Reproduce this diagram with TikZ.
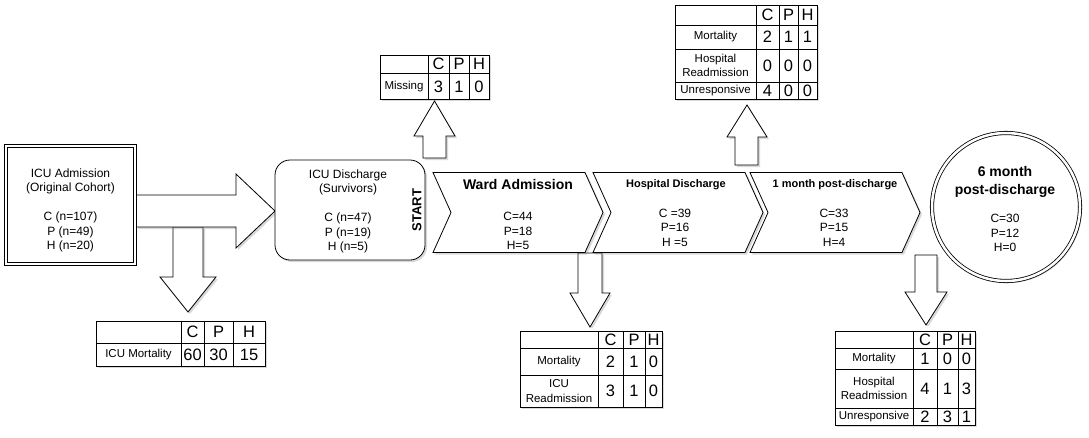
\documentclass[tikz,border=0pt]{standalone}
\usepackage{fontspec}
\setmainfont{Liberation Sans}
\usetikzlibrary{shapes.symbols,shadows}

\begin{document}
\begin{tikzpicture}[x = 1pt, y = -1pt, line width = 0.8pt,
                      txt/.style = {font = \fontsize{12}{14.5}\selectfont, align = center, inner sep = 0pt},
                      lab/.style = {font = \fontsize{11.5}{14.5}\selectfont, align = center, inner sep = 0pt},
                      num/.style = {font = \fontsize{16.5}{18}\selectfont, inner sep = 0pt},
                      title/.style = {font = \fontsize{14}{18}\selectfont\bfseries, align = center, inner sep = 0pt},
                      subtitle/.style = {font = \fontsize{11}{14}\selectfont\bfseries, inner sep = 0pt},
                      dshadow/.style = {drop shadow = {shadow xshift = 2pt, shadow yshift = -2pt, opacity = 0.3}},
                      blockarrow/.style = {draw, fill = white, line join = miter, dshadow},
                      tablebox/.style = {draw, fill = white, dshadow},
                      stage/.style = {signal, signal to = east, signal from = west, signal pointer angle = 131.5,
                                      draw, fill = white, minimum width = 170, minimum height = 80, inner sep = 0pt, dshadow}]
    \useasboundingbox (0, 0) rectangle (1089, 437);

    % block arrows
    \draw [blockarrow] (173, 227) -- (173, 277) -- (160, 277) -- (188, 312) -- (216, 277) -- (203, 277) -- (203, 227) -- cycle;
    \draw [blockarrow] (136, 195) -- (236, 195) -- (236, 174) -- (275, 211) -- (236, 248) -- (236, 227) -- (136, 227) -- cycle;
    \draw [blockarrow] (423, 158) -- (423, 136) -- (414, 136) -- (434.5, 101) -- (455, 136) -- (446, 136) -- (446, 158) -- cycle;
    \draw [blockarrow] (735, 165) -- (735, 137) -- (727, 137) -- (747, 105) -- (767, 137) -- (758, 137) -- (758, 165) -- cycle;
    \draw [blockarrow] (578, 253) -- (578, 293) -- (570, 293) -- (590, 327) -- (610, 293) -- (602, 293) -- (602, 253) -- cycle;
    \draw [blockarrow] (915, 255) -- (915, 292) -- (905, 292) -- (926, 325) -- (947, 292) -- (937, 292) -- (937, 255) -- cycle;

    % stages
    \node [draw, double, double distance = 2pt, fill = white, minimum width = 129, minimum height = 118, dshadow] (adm) at (70.5, 205){};
    \node [txt] (admtext) at (70.5, 210.5){ICU Admission\\(Original Cohort)\\[14.5pt]C (n=107)\\P (n=49)\\H (n=20)};

    \node [draw, rounded corners = 15, fill = white, minimum width = 150, minimum height = 100, dshadow] (dis) at (350, 210){};
    \node [txt] (distext) at (348, 211.5){ICU Discharge\\(Survivors)\\[14.5pt]C (n=47)\\P (n=19)\\H (n=5)};
    \node [font = \fontsize{13}{15}\selectfont\bfseries, rotate = 90, inner sep = 0pt] (start) at (417, 210){START};

    \node [stage] (ward) at (518, 212.5){};
    \node [title] (wardtitle) at (518, 184){Ward Admission};
    \node [txt] (wardnum) at (518, 231){C=44\\P=18\\H=5};

    \node [stage] (hosp) at (678, 212.5){};
    \node [subtitle] (hosptitle) at (676, 185){Hospital Discharge};
    \node [txt] (hospnum) at (675, 227.5){C =39\\P=16\\H =5};

    \node [stage] (month) at (835, 212.5){};
    \node [subtitle] (monthtitle) at (835, 185){1 month post-discharge};
    \node [txt] (monthnum) at (834, 227.5){C=33\\P=15\\H=4};

    \node [circle, draw, double, double distance = 2.5pt, fill = white, minimum size = 148, dshadow] (six) at (1006, 207){};
    \node [title] (sixtitle) at (1005, 182){6 month\\post-discharge};
    \node [txt] (sixnum) at (1005, 233){C=30\\P=12\\H=0};

    % ICU mortality table
    \draw [tablebox] (96, 321) rectangle (265, 366);
    \draw (96, 343) -- (265, 343) (181, 321) -- (181, 366) (204, 321) -- (204, 366) (233, 321) -- (233, 366);
    \node [lab] (icumort) at (138.5, 354.5){ICU Mortality};
    \node [num] (icuC) at (192.5, 332){C};
    \node [num] (icuP) at (218.5, 332){P};
    \node [num] (icuH) at (249, 332){H};
    \node [num] (icuc) at (192.5, 354.5){60};
    \node [num] (icup) at (218.5, 354.5){30};
    \node [num] (icuh) at (249, 354.5){15};

    % missing table
    \draw [tablebox] (380, 55) rectangle (489, 99);
    \draw (380, 73) -- (489, 73) (428, 55) -- (428, 99) (449, 55) -- (449, 99) (469, 55) -- (469, 99);
    \node [lab] (miss) at (404, 87){Missing};
    \node [num] (missC) at (438.5, 64){C};
    \node [num] (missP) at (459, 64){P};
    \node [num] (missH) at (479, 64){H};
    \node [num] (missc) at (438.5, 87){3};
    \node [num] (missp) at (459, 87){1};
    \node [num] (missh) at (479, 87){0};

    % ward table
    \draw [tablebox] (520, 331) rectangle (662, 407);
    \draw (520, 348) -- (662, 348) (520, 375) -- (662, 375);
    \draw (598, 331) -- (598, 407) (623, 331) -- (623, 407) (645, 331) -- (645, 407);
    \node [lab] (wmort) at (559, 361.5){Mortality};
    \node [lab] (wread) at (559, 391){ICU\\Readmission};
    \node [num] (wC) at (610.5, 339.5){C};
    \node [num] (wP) at (634, 339.5){P};
    \node [num] (wH) at (653.5, 339.5){H};
    \node [num] (wc1) at (610.5, 361.5){2};
    \node [num] (wp1) at (634, 361.5){1};
    \node [num] (wh1) at (653.5, 361.5){0};
    \node [num] (wc2) at (610.5, 391){3};
    \node [num] (wp2) at (634, 391){1};
    \node [num] (wh2) at (653.5, 391){0};

    % one month table
    \draw [tablebox] (675, 5) rectangle (817, 99);
    \draw (675, 25) -- (817, 25) (675, 49) -- (817, 49) (675, 82) -- (817, 82);
    \draw (756, 5) -- (756, 99) (779, 5) -- (779, 99) (798, 5) -- (798, 99);
    \node [lab] (mmort) at (715.5, 37){Mortality};
    \node [lab] (mread) at (715.5, 65.5){Hospital\\Readmission};
    \node [lab] (munr) at (715.5, 90.5){Unresponsive};
    \node [num] (mC) at (767.5, 15){C};
    \node [num] (mP) at (788.5, 15){P};
    \node [num] (mH) at (807.5, 15){H};
    \node [num] (mc1) at (767.5, 37){2};
    \node [num] (mp1) at (788.5, 37){1};
    \node [num] (mh1) at (807.5, 37){1};
    \node [num] (mc2) at (767.5, 65.5){0};
    \node [num] (mp2) at (788.5, 65.5){0};
    \node [num] (mh2) at (807.5, 65.5){0};
    \node [num] (mc3) at (767.5, 90.5){4};
    \node [num] (mp3) at (788.5, 90.5){0};
    \node [num] (mh3) at (807.5, 90.5){0};

    % six month table
    \draw [tablebox] (835, 331) rectangle (975, 425);
    \draw (835, 348) -- (975, 348) (835, 369) -- (975, 369) (835, 408) -- (975, 408);
    \draw (913, 331) -- (913, 425) (937, 331) -- (937, 425) (958, 331) -- (958, 425);
    \node [lab] (smort) at (874, 358.5){Mortality};
    \node [lab] (sread) at (874, 388.5){Hospital\\Readmission};
    \node [lab] (sunr) at (874, 416.5){Unresponsive};
    \node [num] (sC) at (925, 339.5){C};
    \node [num] (sP) at (947.5, 339.5){P};
    \node [num] (sH) at (966.5, 339.5){H};
    \node [num] (sc1) at (925, 358.5){1};
    \node [num] (sp1) at (947.5, 358.5){0};
    \node [num] (sh1) at (966.5, 358.5){0};
    \node [num] (sc2) at (925, 388.5){4};
    \node [num] (sp2) at (947.5, 388.5){1};
    \node [num] (sh2) at (966.5, 388.5){3};
    \node [num] (sc3) at (925, 416.5){2};
    \node [num] (sp3) at (947.5, 416.5){3};
    \node [num] (sh3) at (966.5, 416.5){1};
\end{tikzpicture}
\end{document}
